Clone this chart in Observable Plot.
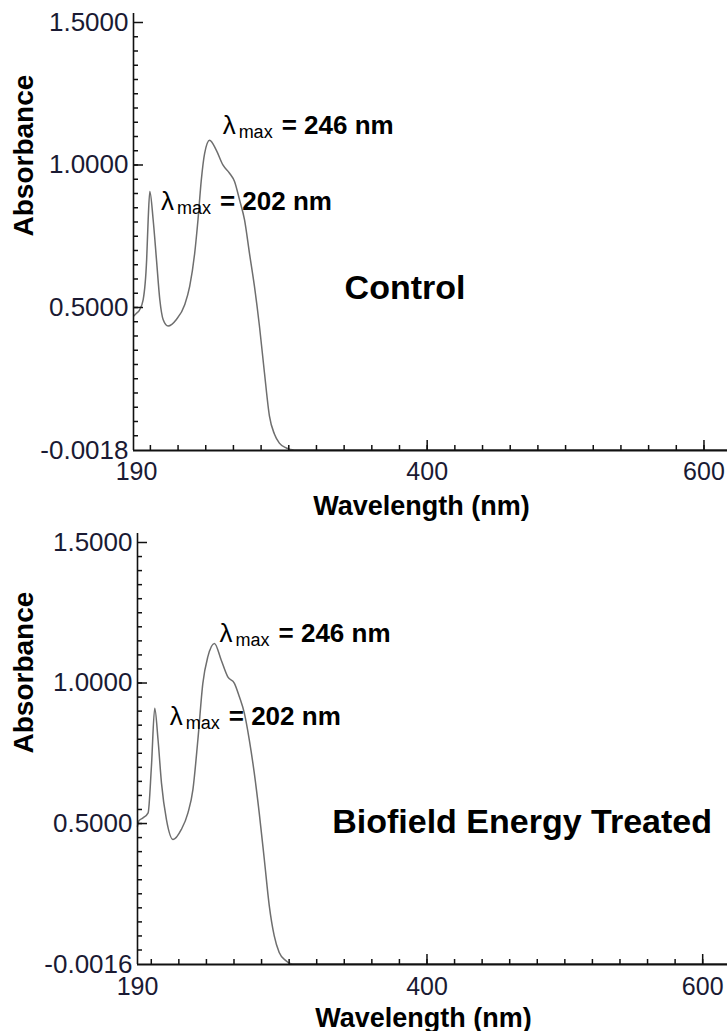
<!DOCTYPE html>
<html><head><meta charset="utf-8">
<script src="https://cdn.jsdelivr.net/npm/d3@7"></script>
<script src="https://cdn.jsdelivr.net/npm/@observablehq/plot@0.6"></script>
<style>
body{margin:0;background:#fff;}
#chart{width:727px;}
#chart svg{display:block;}
</style></head><body><div id="chart"></div>
<script>
// ---- data ----
const controlWavelength = [188, 190, 192, 194.8, 197.3, 198.4, 199.6, 202.0, 204.4, 206.8, 209.2, 212.8, 218.8, 224.8, 228.4, 232.0, 234.4, 236.8, 239.2, 242.8, 247.6, 252.4, 257.2, 260.8, 264.4, 268.0, 271.6, 275.2, 278.8, 282.4, 286.0, 289.6, 293.2, 298.2, 304, 320, 400, 500, 617];
const controlAbsorbance = [0.47, 0.48, 0.49, 0.528, 0.668, 0.808, 0.907, 0.808, 0.668, 0.528, 0.458, 0.435, 0.458, 0.51, 0.574, 0.69, 0.808, 0.948, 1.041, 1.087, 1.052, 1.0, 0.971, 0.942, 0.878, 0.808, 0.69, 0.574, 0.435, 0.272, 0.12, 0.056, 0.024, 0.007, 0.0, 0.0, 0.0, 0.0, 0.0];

const treatedWavelength = [190, 191, 194, 197.7, 200.1, 202.5, 204.9, 207.4, 211.0, 215.8, 221.8, 226.6, 230.2, 233.8, 237.4, 241.0, 245.8, 250.7, 255.5, 260.3, 263.9, 267.5, 271.1, 274.7, 278.3, 282.0, 285.6, 289.2, 292.8, 297.6, 302.4, 320, 400, 500, 618];
const treatedAbsorbance = [0.49, 0.51, 0.52, 0.538, 0.703, 0.91, 0.798, 0.644, 0.514, 0.443, 0.479, 0.538, 0.621, 0.798, 0.999, 1.093, 1.141, 1.082, 1.022, 0.999, 0.951, 0.893, 0.798, 0.68, 0.538, 0.372, 0.207, 0.10, 0.041, 0.012, 0.0, 0.0, 0.0, 0.0, 0.0];

const xTickLabels = [190, 400, 600];
const xMinorTicks = d3.range(200, 601, 20);
const xMajorTicks = [400, 600];
const controlYLabels = [1.5, 1.0, 0.5, -0.0018];
const treatedYLabels = [1.5, 1.0, 0.5, -0.0016];
const yMinorTicks = d3.range(1, 30).map(i => i * 0.05);
const yMajorTicks = [1.5, 1.0, 0.5];

const peakText = ["202 nm", "246 nm"];
// label anchors in data units (wavelength, absorbance)
const controlLabelWavelength = [207.6, 252.2];
const controlLabelAbsorbance = [0.843, 1.108];
const treatedLabelWavelength = [213.4, 249.5];
const treatedLabelAbsorbance = [0.851, 1.145];

const sampleNames = ["Control", "Biofield Energy Treated"];
const sampleWavelength = [384, 469];
const sampleAbsorbance = [0.531, 0.465];

const xTitle = "Wavelength (nm)";
const yTitle = "Absorbance";

const FONT = "'Liberation Sans', Arial, sans-serif";
const INK = "#1a1a33";

function panel({wl, ab, xDomain, yDomain, yLabels, labelWl, labelAb, name, nameWl, nameAb, height, marginTop, marginBottom, marginLeft, titleDy, xPad}) {
  const width = 727;
  const fw = width - marginLeft;
  const fh = height - marginTop - marginBottom;
  const rows = d3.zip(wl, ab).map(([w, a]) => ({w, a}));
  const notes = peakText.map((t, i) => ({t, w: labelWl[i], a: labelAb[i]}));
  return Plot.plot({
    width, height, marginTop, marginBottom, marginLeft, marginRight: 0,
    style: {fontFamily: FONT, background: "#fff"},
    x: {domain: xDomain},
    y: {domain: yDomain},
    marks: [
      Plot.line(rows, {x: "w", y: "a", stroke: "#6e6e6e", strokeWidth: 1.5, curve: "monotone-x"}),
      Plot.tickY(yMinorTicks, {y: d => d, insetRight: fw - 5, stroke: "#111", strokeWidth: 1.5}),
      Plot.tickY(yMajorTicks, {y: d => d, insetRight: fw - 10, stroke: "#111", strokeWidth: 1.5}),
      Plot.tickX(xMinorTicks, {x: d => d, insetTop: fh - 5, stroke: "#111", strokeWidth: 1.5}),
      Plot.tickX(xMajorTicks, {x: d => d, insetTop: fh - 10, stroke: "#111", strokeWidth: 1.5}),
      Plot.ruleX([xDomain[0]], {stroke: "#111", strokeWidth: 1.6, insetTop: -9}),
      Plot.ruleY([yDomain[0]], {stroke: "#111", strokeWidth: 2}),
      Plot.axisY({ticks: yLabels, tickSize: 0, tickPadding: 5, tickFormat: d => d.toFixed(4), fontSize: 26, color: INK, label: null}),
      Plot.axisX({ticks: xTickLabels, tickSize: 0, tickPadding: xPad, fontSize: 25, color: INK, label: null}),
      Plot.text([xTitle], {frameAnchor: "bottom", dy: titleDy, dx: -9, lineAnchor: "bottom", fontSize: 27, fontWeight: "bold", fill: "#000"}),
      Plot.text([yTitle], {frameAnchor: "left", dx: -(marginLeft - 24), rotate: -90, fontSize: 28, fontWeight: "bold", fill: "#000"}),
      Plot.text(notes, {x: "w", y: "a", text: () => "λ", textAnchor: "start", lineAnchor: "bottom", fontSize: 26, fill: "#000"}),
      Plot.text(notes, {x: "w", y: "a", text: () => "max", dx: 16, dy: 4, textAnchor: "start", lineAnchor: "bottom", fontSize: 18, fill: "#000"}),
      Plot.text(notes, {x: "w", y: "a", text: d => "= " + d.t, dx: 59, textAnchor: "start", lineAnchor: "bottom", fontSize: 26, fontWeight: "bold", fill: "#000"}),
      Plot.text([{n: name, w: nameWl, a: nameAb}], {x: "w", y: "a", text: "n", textAnchor: "middle", lineAnchor: "bottom", fontSize: 34, fontWeight: "bold", fill: "#000"})
    ]
  });
}

const chart = document.getElementById("chart");
chart.append(panel({
  wl: controlWavelength, ab: controlAbsorbance,
  xDomain: [187.8, 617], yDomain: [-0.0018, 1.5], yLabels: controlYLabels,
  labelWl: controlLabelWavelength, labelAb: controlLabelAbsorbance,
  name: sampleNames[0], nameWl: sampleWavelength[0], nameAb: sampleAbsorbance[0],
  height: 528, marginTop: 22, marginBottom: 78, marginLeft: 133, titleDy: 64, xPad: 12
}));
chart.append(panel({
  wl: treatedWavelength, ab: treatedAbsorbance,
  xDomain: [190, 618], yDomain: [-0.0016, 1.5], yLabels: treatedYLabels,
  labelWl: treatedLabelWavelength, labelAb: treatedLabelAbsorbance,
  name: sampleNames[1], nameWl: sampleWavelength[1], nameAb: sampleAbsorbance[1],
  height: 503, marginTop: 14, marginBottom: 67, marginLeft: 137, titleDy: 62, xPad: 13
}));
</script>
</body></html>
